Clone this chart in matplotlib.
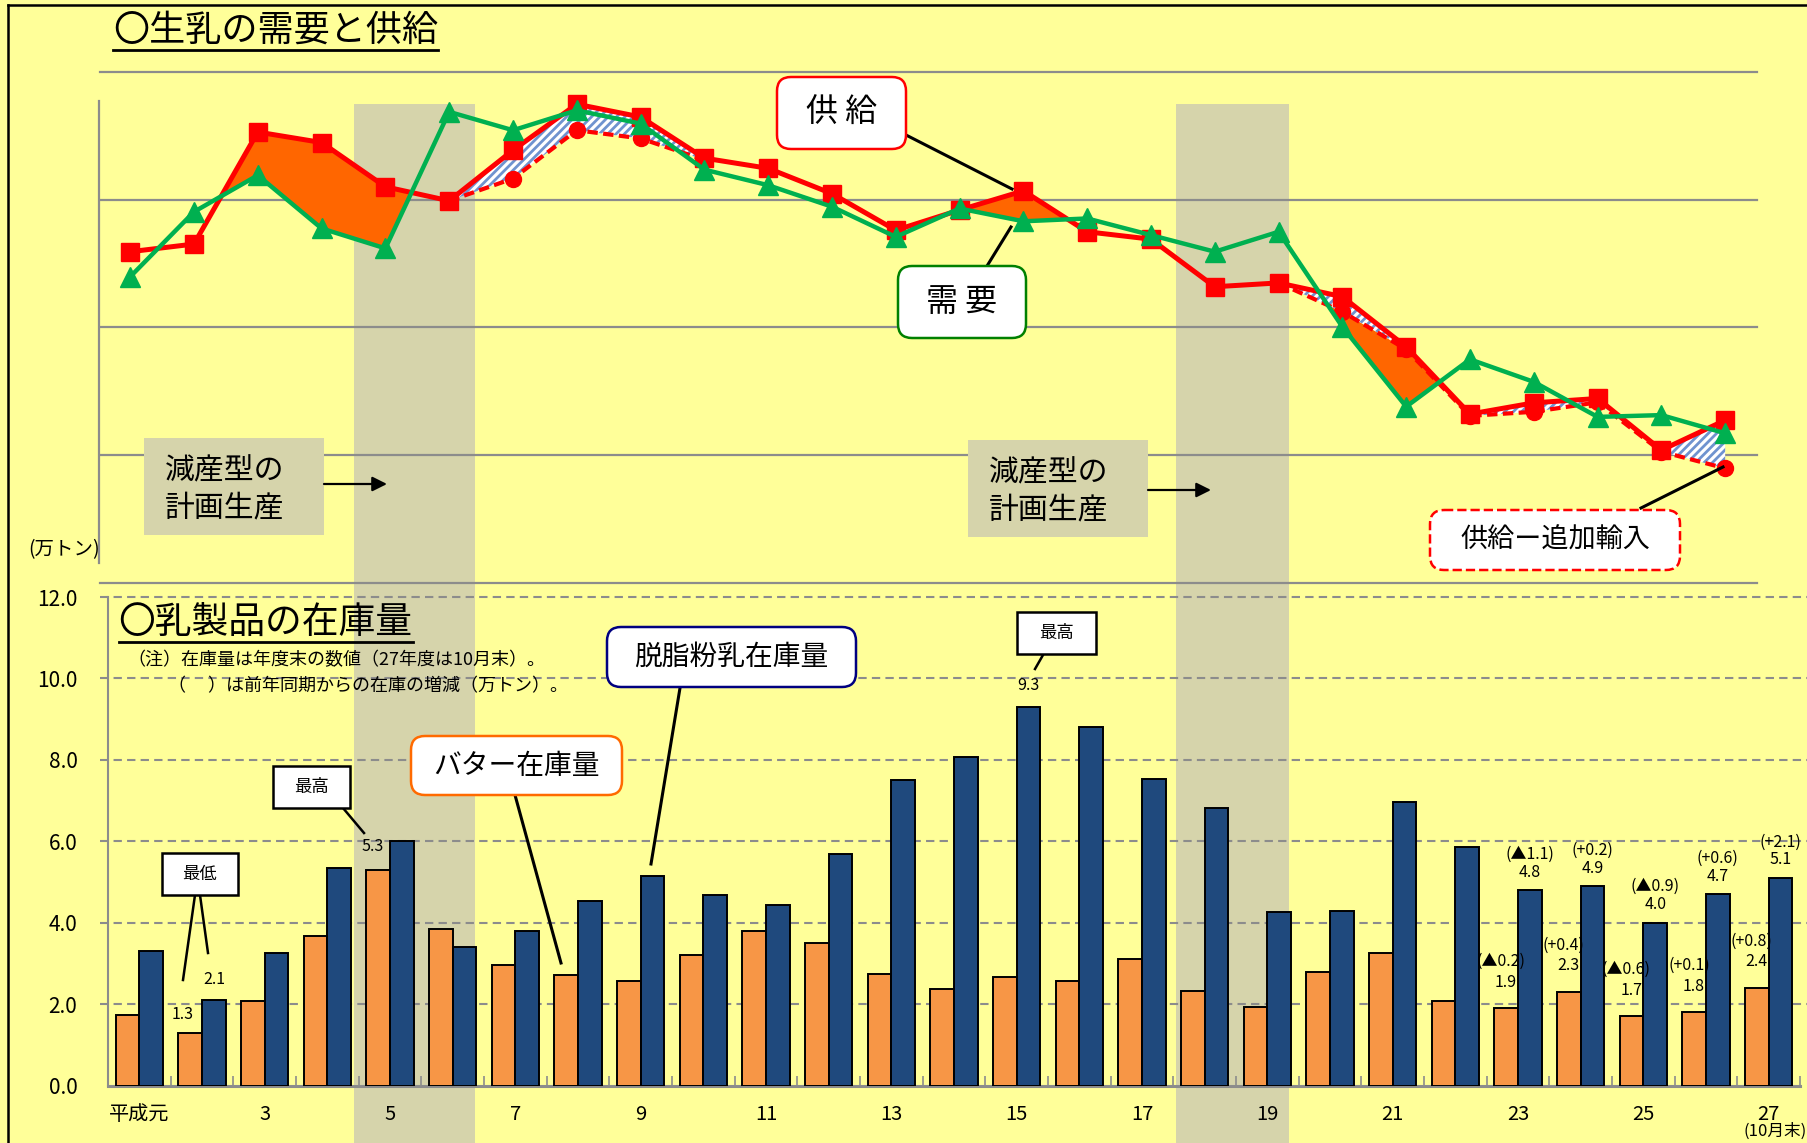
import numpy as np
import matplotlib
matplotlib.use('Agg')
import matplotlib.pyplot as plt
from matplotlib.transforms import Affine2D
from matplotlib.patches import Rectangle, FancyBboxPatch, FancyArrowPatch
from matplotlib.lines import Line2D

plt.rcParams['font.family'] = ['Noto Sans CJK JP', 'DejaVu Sans']
plt.rcParams['hatch.linewidth'] = 2.0

nan = np.nan

# ---------------- data ----------------
# top chart: raw milk supply / demand (relative scale, 万トン)
years_top = np.arange(1, 27)
supply = [829.6, 832.6, 876.4, 872.3, 855.0, 849.5, 869.3, 887.3, 882.3, 866.2,
          862.2, 852.3, 838.0, 845.9, 853.4, 837.4, 834.5, 815.9, 817.4, 812.0,
          792.4, 766.1, 770.5, 772.2, 752.0, 763.7]
demand = [819.8, 845.2, 859.5, 838.7, 830.9, 884.3, 877.1, 884.9, 879.7, 861.7,
          855.6, 847.2, 835.4, 846.5, 841.5, 842.6, 836.1, 829.6, 837.4, 800.2,
          769.0, 787.5, 778.7, 765.0, 765.7, 758.6]
supply_minus_import = [nan, nan, nan, nan, nan, 849.5, 858.2, 877.1, 873.9, 865.5,
                       nan, nan, nan, nan, nan, nan, nan, nan, 817.4, 806.1,
                       791.4, 765.4, 767.0, 770.7, 751.4, 744.9]
surplus_periods = [(2, 6), (14, 16), (19, 22)]

# bottom chart: dairy product stocks (万トン)
years_bar = np.arange(1, 28)
year_ticks = list(range(1, 28, 2))
year_tick_labels = ['平成元'] + [str(y) for y in range(3, 28, 2)]
butter = [1.73, 1.3, 2.09, 3.67, 5.3, 3.85, 2.97, 2.72, 2.58, 3.2, 3.79, 3.51, 2.75, 2.38,
          2.66, 2.58, 3.11, 2.32, 1.92, 2.8, 3.25, 2.07, 1.9, 2.3, 1.7, 1.8, 2.4]
smp = [3.31, 2.1, 3.25, 5.35, 6.0, 3.41, 3.79, 4.53, 5.15, 4.67, 4.44, 5.69, 7.5, 8.07,
       9.3, 8.8, 7.53, 6.82, 4.27, 4.3, 6.96, 5.86, 4.8, 4.9, 4.0, 4.7, 5.1]
butter_delta = {23: '(▲0.2)', 24: '(+0.4)', 25: '(▲0.6)', 26: '(+0.1)', 27: '(+0.8)'}
smp_delta = {23: '(▲1.1)', 24: '(+0.2)', 25: '(▲0.9)', 26: '(+0.6)', 27: '(+2.1)'}
butter_value_years = [2, 5, 23, 24, 25, 26, 27]
smp_value_years = [2, 15, 23, 24, 25, 26, 27]

# ---------------- figure ----------------
W, H = 1807, 1143
BG = '#FFFF99'
SHADE = '#d6d4ab'
GRID = '#8c8c8c'
fig = plt.figure(figsize=(W / 100, H / 100), dpi=100)
fig.patch.set_facecolor(BG)
PX = Affine2D().scale(1 / W, -1 / H).translate(0, 1) + fig.transFigure


def rect_fig(x0, y0, x1, y1):
    return [x0 / W, 1 - y1 / H, (x1 - x0) / W, (y1 - y0) / H]


# shaded periods (planned production cut)
for x0, x1 in [(354, 475), (1176, 1289)]:
    fig.add_artist(Rectangle((x0, 104), x1 - x0, H - 100, transform=PX,
                             facecolor=SHADE, edgecolor='none', zorder=-10))

# frame
fig.add_artist(Line2D([8, 8], [5, H + 5], transform=PX, color='black', lw=1.8))
fig.add_artist(Line2D([8, W + 5], [5, 5], transform=PX, color='black', lw=1.8))

# ---------------- top chart ----------------
axT = fig.add_axes(rect_fig(99.5, 71.7, 1757.4, 583.1))
axT.set_facecolor('none')
axT.set_xlim(0.519, 26.505)
axT.set_ylim(700, 900)
for s in axT.spines.values():
    s.set_visible(False)
axT.set_xticks([])
axT.set_yticks([])
for g in [700, 750, 800, 850, 900]:
    axT.axhline(g, color=GRID, lw=1.6, zorder=1, clip_on=False)
fig.add_artist(Line2D([99.5, 99.5], [101, 563], transform=PX, color=GRID, lw=1.6))

x = years_top
sup = np.array(supply)
dem = np.array(demand)
smi = np.array(supply_minus_import)
eff = np.where(np.isnan(smi), sup, smi)
mask = np.zeros(len(x), bool)
for a, b in surplus_periods:
    mask |= (x >= a) & (x <= b)
axT.fill_between(x, eff, dem, where=mask & (eff > dem), interpolate=True,
                 color='#FF6600', lw=0, zorder=2)
axT.fill_between(x, sup, smi, facecolor='white', edgecolor='#6f93cf', hatch='////',
                 lw=0, zorder=2)
axT.plot(x, smi, color='red', ls=(0, (2.5, 1.3)), lw=3.0, marker='o', ms=11.5, zorder=3)
axT.plot(x, sup, color='red', lw=3.6, marker='s', ms=13, zorder=4)
axT.plot(x, dem, color='#00B050', lw=3.2, marker='^', ms=14, zorder=5)

# ---------------- bottom chart ----------------
axB = fig.add_axes(rect_fig(108, 597, 1800, 1085.6))
axB.set_facecolor('none')
axB.set_xlim(0.5, 27.5)
axB.set_ylim(0, 12)
xb = years_bar
axB.bar(xb - 0.19, butter, width=0.38, color='#F79646', edgecolor='black', lw=1.4, zorder=3)
axB.bar(xb + 0.19, smp, width=0.38, color='#1F497D', edgecolor='black', lw=1.4, zorder=3)
for g in range(2, 13, 2):
    axB.axhline(g, xmin=-0.005, xmax=1.01, color=GRID, lw=1.5, ls=(0, (4, 2.5)),
                zorder=1, clip_on=False)
axB.spines['top'].set_visible(False)
axB.spines['right'].set_visible(False)
axB.spines['left'].set_color(GRID)
axB.spines['left'].set_linewidth(1.5)
axB.spines['bottom'].set_color(GRID)
axB.spines['bottom'].set_linewidth(2.2)
axB.set_yticks(np.arange(0, 13, 2))
axB.set_yticklabels([f'{v:.1f}' for v in np.arange(0, 13, 2)], fontsize=15)
axB.tick_params(axis='y', length=0, pad=22)
axB.set_xticks(year_ticks)
axB.set_xticklabels(year_tick_labels, fontsize=14.5)
axB.set_xticks(np.arange(0.5, 28, 1), minor=True)
axB.tick_params(axis='x', which='major', length=0, pad=13)
axB.tick_params(axis='x', which='minor', direction='in', length=7, width=1.2, color=GRID)


def lab(xv, yv, s, dy_px, dx_px=0):
    axB.annotate(s, (xv, yv), xytext=(dx_px * 0.72, dy_px * 0.72), textcoords='offset points',
                 ha='center', va='center', fontsize=11.5, zorder=6)


for yr in butter_value_years:
    i = yr - 1
    if yr in butter_delta:
        lab(yr - 0.19, butter[i], f'{butter[i]:.1f}', 26)
        lab(yr - 0.19, butter[i], butter_delta[yr], 47, -5)
    elif yr == 2:
        lab(yr - 0.19, butter[i], f'{butter[i]:.1f}', 18, -7)
    else:
        lab(yr - 0.19, butter[i], f'{butter[i]:.1f}', 23, -5)
for yr in smp_value_years:
    i = yr - 1
    if yr in smp_delta:
        lab(yr + 0.19, smp[i], f'{smp[i]:.1f}', 18)
        lab(yr + 0.19, smp[i], smp_delta[yr], 36)
    else:
        lab(yr + 0.19, smp[i], f'{smp[i]:.1f}', 21)

# ---------------- texts & callouts ----------------
def ftext(xp, yp, s, size, ha='left', **kw):
    return fig.text(xp, yp, s, transform=PX, fontsize=size, ha=ha, va='center', zorder=12, **kw)


def fline(x0, y0, x1, y1, lw=2.0):
    fig.add_artist(Line2D([x0, x1], [y0, y1], transform=PX, color='black', lw=lw, zorder=11))


def fbox(x0, y0, x1, y1, ec, text, size, rounded=True, ls='-'):
    style = 'round,pad=0,rounding_size=14' if rounded else 'square,pad=0'
    fig.add_artist(FancyBboxPatch((x0, y0), x1 - x0, y1 - y0, boxstyle=style, transform=PX,
                                  facecolor='white', edgecolor=ec, lw=1.8, ls=ls, zorder=11))
    ftext((x0 + x1) / 2, (y0 + y1) / 2, text, size, ha='center')


t1 = ftext(113, 31, '〇生乳の需要と供給', 26)
t2 = ftext(118.6, 622, '〇乳製品の在庫量', 26.5)
ftext(127, 660, '（注）在庫量は年度末の数値（27年度は10月末）。', 13)
ftext(168, 686, '（　 ）は前年同期からの在庫の増減（万トン）。', 13)
ftext(28, 550, '(万トン)', 14)
ftext(1775, 1131, '(10月末)', 12, ha='center')

# supply / demand callouts
fline(906, 135, 1012, 189, 2.2)
fbox(777, 77, 906, 149, 'red', '供 給', 23)
fline(987, 266, 1011, 227, 2.2)
fbox(898, 266, 1026, 338, '#008000', '需 要', 23)
fline(1641, 508, 1723, 467, 2.2)
fbox(1430, 510, 1680, 570, 'red', '供給ー追加輸入', 19.5, ls='--')

# stock callouts
fline(515, 795, 561, 963, 2.2)
fbox(411, 736, 622, 795, '#FF6A00', 'バター在庫量', 20)
fline(680, 688, 651, 864, 2.2)
fbox(607, 627, 856, 687, '#000080', '脱脂粉乳在庫量', 20)

# min / max boxes
fline(195, 895, 183, 980, 1.8)
fline(200, 895, 208, 953, 1.8)
fbox(162, 853, 238, 895, 'black', '最低', 12.5, rounded=False)
fline(343, 808, 364, 833, 1.8)
fbox(273, 766, 350, 808, 'black', '最高', 12.5, rounded=False)
fline(1043, 655, 1035, 669, 1.8)
fbox(1017, 612, 1096, 654, 'black', '最高', 12.5, rounded=False)

# planned production boxes
for (bx0, by0, bx1, by1), (ax0, ax1, ay) in [((144, 438, 324, 535), (324, 387, 484)),
                                             ((968, 440, 1148, 537), (1148, 1211, 490))]:
    fig.add_artist(Rectangle((bx0, by0), bx1 - bx0, by1 - by0, transform=PX,
                             facecolor=SHADE, edgecolor='none', zorder=10))
    ftext(bx0 + 21, by0 + 33, '減産型の', 21.5)
    ftext(bx0 + 21, by0 + 70, '計画生産', 21.5)
    fig.add_artist(FancyArrowPatch((ax0, ay), (ax1, ay), transform=PX, arrowstyle='-|>',
                                   mutation_scale=22, color='black', lw=1.6, zorder=11,
                                   shrinkA=0, shrinkB=0))

# underlines for titles
fig.canvas.draw()
r = fig.canvas.get_renderer()
for t, uy in [(t1, 50), (t2, 641.5)]:
    bb = t.get_window_extent(r)
    fig.add_artist(Line2D([bb.x0 / W, bb.x1 / W], [1 - uy / H, 1 - uy / H],
                          transform=fig.transFigure, color='black', lw=2.0, zorder=12))

fig.savefig('out.png', dpi=100, facecolor=BG)
